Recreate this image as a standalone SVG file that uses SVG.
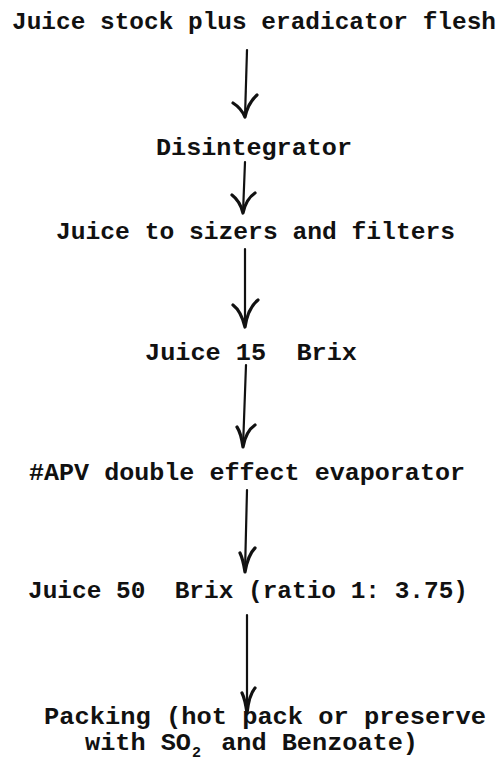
<svg xmlns="http://www.w3.org/2000/svg" width="503" height="761" viewBox="0 0 503 761">
<style>
  .t { font-family: "Liberation Mono", "Courier New", monospace; font-weight: bold; font-size: 24.5px; fill: #111; white-space: pre; }
  .sub { font-size: 15px; }
  .shaft { fill: none; stroke: #111; stroke-width: 2.2; stroke-linecap: round; }
  .head { fill: none; stroke: #111; stroke-width: 3.2; stroke-linecap: round; stroke-linejoin: round; }
</style>
<rect width="503" height="761" fill="#fff"/>
<g id="connectors">
  <g id="a1"><path class="shaft" d="M247,50 L245,117"/><path class="head" d="M233,103 Q241,108 245,117 Q248,103 257,95"/></g>
  <g id="a2"><path class="shaft" d="M245,162 L243,213"/><path class="head" d="M232,195 Q240,201 243,213 Q246,199 255,193"/></g>
  <g id="a3"><path class="shaft" d="M245,249 L245,327"/><path class="head" d="M233,305 Q241,311 245,327 Q248,308 258,300"/></g>
  <g id="a4"><path class="shaft" d="M246,365 L243,447"/><path class="head" d="M237,427 Q241,433 243,447 Q246,431 255,425"/></g>
  <g id="a5"><path class="shaft" d="M247,490 L245,572"/><path class="head" d="M240,553 Q243,559 245,572 Q248,555 255,548"/></g>
  <g id="a6"><path class="shaft" d="M247,615 L247,713"/><path class="head" d="M242,693 Q245,699 247,713 Q249,695 255,688"/></g>
</g>
<g id="n1"><text class="t" x="12" y="29" textLength="484" lengthAdjust="spacingAndGlyphs">Juice stock plus eradicator flesh</text></g>
<g id="n2"><text class="t" x="156" y="155" textLength="196" lengthAdjust="spacingAndGlyphs">Disintegrator</text></g>
<g id="n3"><text class="t" x="56" y="239" textLength="399" lengthAdjust="spacingAndGlyphs">Juice to sizers and filters</text></g>
<g id="n4"><text class="t" xml:space="preserve" x="145" y="360" textLength="212" lengthAdjust="spacingAndGlyphs">Juice 15  Brix</text></g>
<g id="n5"><text class="t" x="29" y="480" textLength="436" lengthAdjust="spacingAndGlyphs">#APV double effect evaporator</text></g>
<g id="n6"><text class="t" xml:space="preserve" x="28" y="598" textLength="440" lengthAdjust="spacingAndGlyphs">Juice 50  Brix (ratio 1: 3.75)</text></g>
<g id="n7">
  <text class="t" x="44" y="724" textLength="442" lengthAdjust="spacingAndGlyphs">Packing (hot pack or preserve</text>
  <text class="t" xml:space="preserve" y="750"><tspan x="85" textLength="106" lengthAdjust="spacingAndGlyphs">with SO</tspan><tspan class="sub" x="192" y="757">2</tspan><tspan x="206" y="750" textLength="212" lengthAdjust="spacingAndGlyphs"> and Benzoate)</tspan></text>
</g>
</svg>
